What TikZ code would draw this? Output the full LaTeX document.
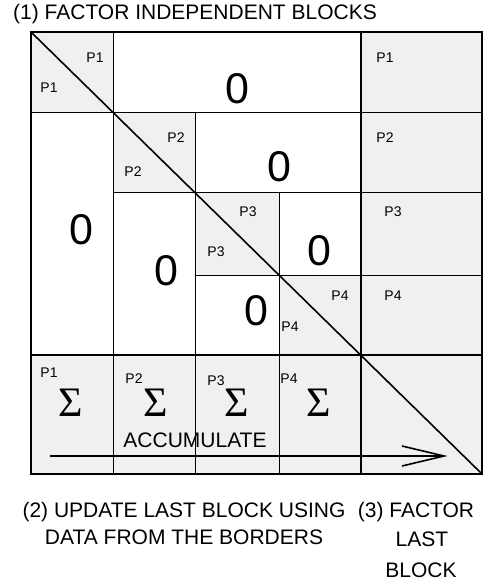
\documentclass[tikz,border=0pt]{standalone}
\usepackage{fontspec}
\setmainfont{Liberation Sans}
\newfontfamily\sigmafont{Liberation Serif}
\definecolor{cellgray}{RGB}{240,240,240}
\begin{document}
\begin{tikzpicture}[x=1pt,y=-1pt,
  graycell/.style={fill=cellgray},
  whitecell/.style={fill=white},
  thinline/.style={line width=0.8pt},
  thickline/.style={line width=2pt},
  plabel/.style={font=\fontsize{14}{16}\selectfont,inner sep=0pt},
  zerolabel/.style={font=\fontsize{43}{46}\selectfont,inner sep=0pt},
  sumlabel/.style={font=\sigmafont\fontsize{42}{46}\selectfont,inner sep=0pt},
  biglabel/.style={font=\fontsize{21}{25}\selectfont,inner sep=0pt},
]
\useasboundingbox (0,0) rectangle (486,582);
% fills
\fill[graycell] (31,32) rectangle (113,112);
\fill[graycell] (361,32) rectangle (482,355);
\fill[graycell] (113,112) rectangle (195,192);
\fill[graycell] (195,192) rectangle (279,275);
\fill[graycell] (279,275) rectangle (361,355);
\fill[graycell] (31,355) rectangle (482,474);
% thin grid lines
\draw[thinline] (113,32) -- (113,474);
\draw[thinline] (31,112) -- (482,112);
\draw[thinline] (195,112) -- (195,474);
\draw[thinline] (113,192) -- (482,192);
\draw[thinline] (279,192) -- (279,474);
\draw[thinline] (195,275) -- (482,275);
% thick lines
\draw[thickline] (31,32) rectangle (482,474);
\draw[thickline] (31,355) -- (482,355);
\draw[thickline] (361,32) -- (361,474);
% diagonal
\coordinate (dstart) at (31,32);
\coordinate (dend) at (482,474);
\draw[line width=1.6pt] (dstart) -- (dend);

% title
\node[biglabel] (title) at (195,14) {(1) FACTOR INDEPENDENT BLOCKS};

% diagonal block labels
\node[plabel] (d1u) at (95,58) {P1};
\node[plabel] (d1l) at (49,88) {P1};
\node[plabel] (d2u) at (176,138) {P2};
\node[plabel] (d2l) at (133,172) {P2};
\node[plabel] (d3u) at (248,212) {P3};
\node[plabel] (d3l) at (216,252) {P3};
\node[plabel] (d4u) at (340,296) {P4};
\node[plabel] (d4l) at (290,327) {P4};

% right column labels
\node[plabel] (r1) at (385,58) {P1};
\node[plabel] (r2) at (385,138) {P2};
\node[plabel] (r3) at (393,212) {P3};
\node[plabel] (r4) at (393,296) {P4};

% zeros
\node[zerolabel] (z1) at (237,89) {0};
\node[zerolabel] (z2) at (279,167) {0};
\node[zerolabel] (z3) at (81,230) {0};
\node[zerolabel] (z4) at (166,271) {0};
\node[zerolabel] (z5) at (319,251) {0};
\node[zerolabel] (z6) at (256,311) {0};

% bottom row
\node[plabel] (b1) at (49,373) {P1};
\node[plabel] (b2) at (134,379) {P2};
\node[plabel] (b3) at (216,381) {P3};
\node[plabel] (b4) at (289,379) {P4};
\node[sumlabel] (s1) at (71,403) {Σ};
\node[sumlabel] (s2) at (156,403) {Σ};
\node[sumlabel] (s3) at (237,403) {Σ};
\node[sumlabel] (s4) at (319,403) {Σ};
\node[biglabel] (acc) at (195,440) {ACCUMULATE};

% accumulate arrow
\coordinate (atail) at (50,456);
\coordinate (atip) at (444,456);
\coordinate (abar1) at (402,446);
\coordinate (abar2) at (402,466);
\draw[line width=1.6pt] (atail) -- (atip);
\draw[line width=1.6pt,line join=miter] (abar1) -- (atip) -- (abar2);

% captions
\node[biglabel] (c2a) at (184,512) {(2) UPDATE LAST BLOCK USING};
\node[biglabel] (c2b) at (184,537) {DATA FROM THE BORDERS};
\node[biglabel] (c3a) at (416,512) {(3) FACTOR};
\node[biglabel] (c3b) at (422,539) {LAST};
\node[biglabel] (c3c) at (421,570) {BLOCK};
\end{tikzpicture}
\end{document}
